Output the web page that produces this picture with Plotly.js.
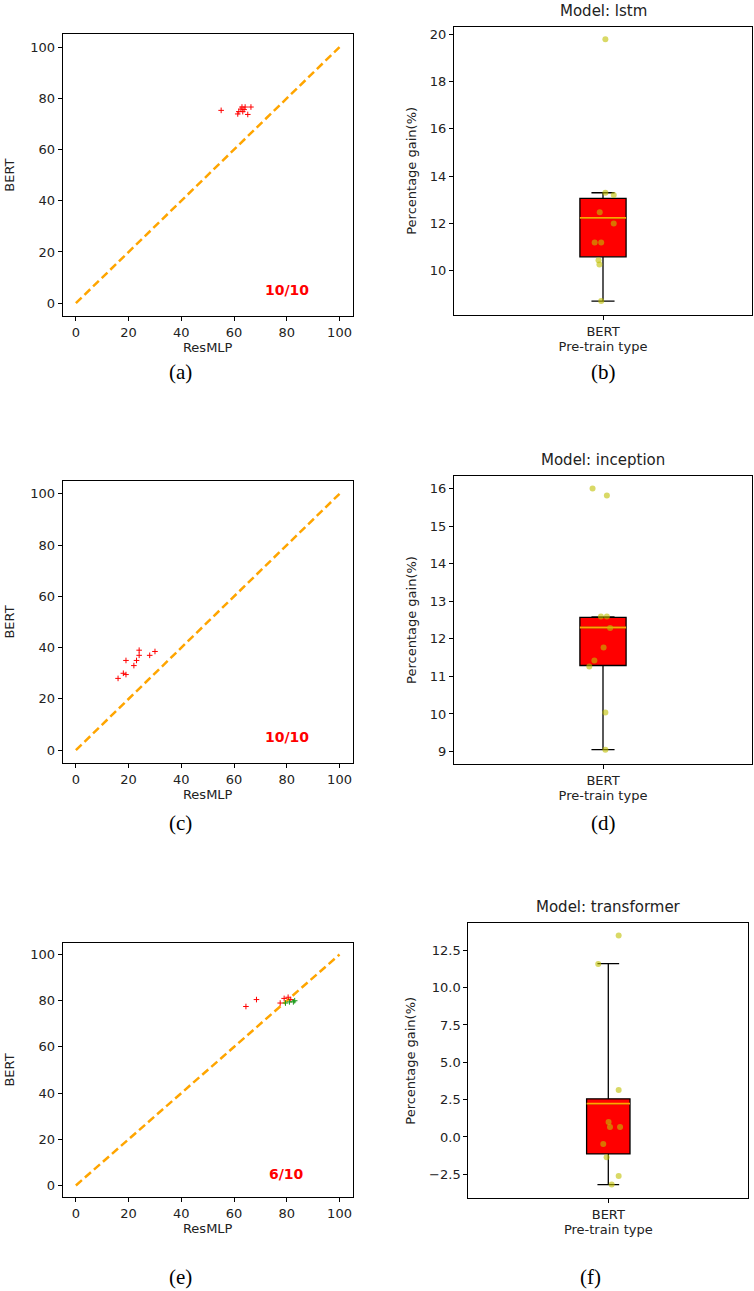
<!DOCTYPE html>
<html>
<head>
<meta charset="utf-8">
<script src="https://cdn.plot.ly/plotly-3.0.1.min.js"></script>
<style>
  html, body { margin: 0; padding: 0; background: #fff; }
  #chart { width: 754px; height: 1291px; }
</style>
</head>
<body>
<div id="chart"></div>
<script>
// ---- data ----
var diagLine = [0, 100];

// (a) lstm
var aResMLP = [55.1, 63.0, 64.2, 66.4, 62.6, 63.8, 61.8, 63.3, 61.4, 65.2];
var aBERT   = [75.3, 76.6, 76.6, 76.6, 75.8, 75.6, 74.8, 74.8, 73.9, 73.7];
// (c) inception
var cResMLP = [16, 18, 19, 19, 22, 23, 24, 24, 28, 30];
var cBERT   = [28, 30, 29.5, 35, 33, 35, 37, 39, 37, 38.5];
// (e) transformer: above diagonal (red) and below (green)
var eResMLPUp   = [64.5, 68.5, 77.5, 79, 80.5, 81.5];
var eBERTUp     = [77.5, 80.5, 79, 81, 81.5, 80.5];
var eResMLPDown = [79.5, 81, 82.5, 83];
var eBERTDown   = [79, 79.5, 79.5, 80];
var winLabels = ['10/10', '10/10', '6/10'];

// box stats and jittered points
var bStats = {q1: 10.59, med: 12.24, q3: 13.06, lo: 8.72, hi: 13.30};
var bGain  = [19.79, 13.30, 13.20, 12.47, 12.0, 11.20, 11.20, 10.45, 10.27, 8.72];
var bJit   = [0.008, 0.008, 0.036, -0.011, 0.036, -0.028, -0.006, -0.015, -0.012, -0.006];

var dStats = {q1: 11.29, med: 12.30, q3: 12.57, lo: 9.05, hi: 12.58};
var dGain  = [16.0, 15.81, 12.59, 12.59, 12.29, 11.77, 11.42, 11.26, 10.04, 9.05];
var dJit   = [-0.035, 0.013, -0.007, 0.013, 0.024, 0.002, -0.029, -0.046, 0.008, 0.008];

var fStats = {q1: -1.14, med: 2.23, q3: 2.55, lo: -3.19, hi: 11.61};
var fGain  = [13.50, 11.58, 3.15, 1.0, 0.67, 0.67, -0.47, -1.36, -2.61, -3.19];
var fJit   = [0.037, -0.036, 0.037, 0.001, 0.006, 0.042, -0.018, -0.006, 0.037, 0.012];

var modelNames = ['lstm', 'inception', 'transformer'];
var captions = ['(a)', '(b)', '(c)', '(d)', '(e)', '(f)'];

// ---- layout helpers (pixel boxes -> paper fractions) ----
var W = 754, H = 1291;
function dx(l, r) { return [l / W, r / W]; }
function dy(t, b) { return [1 - b / H, 1 - t / H]; }

var FONT = 'DejaVu Sans, sans-serif';
var boxW = 0.155;

function scatterAxis(dom, extra) {
  var ax = {
    domain: dom, range: [-5, 105], tickvals: [0, 20, 40, 60, 80, 100],
    ticks: 'outside', ticklen: 4, tickcolor: '#000',
    showline: true, mirror: true, linecolor: '#000', linewidth: 1,
    showgrid: false, zeroline: false,
    tickfont: {family: FONT, size: 13, color: '#222'}
  };
  for (var k in extra) ax[k] = extra[k];
  return ax;
}

function scatterTraces(xs, ys, color, xa, ya) {
  return {
    x: xs, y: ys, xaxis: xa, yaxis: ya, type: 'scatter', mode: 'markers',
    marker: {symbol: 'cross-thin', size: 4, line: {color: color, width: 1}},
    hoverinfo: 'skip'
  };
}

function diagTrace(xa, ya) {
  return {
    x: diagLine, y: diagLine, xaxis: xa, yaxis: ya, type: 'scatter', mode: 'lines',
    line: {color: '#ffa500', width: 2.5, dash: '8px,4px'}, hoverinfo: 'skip'
  };
}

function boxTraces(st, gain, jit, xa, ya) {
  var px = jit.map(function (j) { return 1 + j; });
  return [
    {
      type: 'box', x: [1], q1: [st.q1], median: [st.med], q3: [st.q3],
      lowerfence: [st.lo], upperfence: [st.hi], width: boxW, whiskerwidth: 0.5,
      boxpoints: false, fillcolor: '#ff0000', line: {color: '#000', width: 1.3},
      xaxis: xa, yaxis: ya, hoverinfo: 'skip'
    },
    {
      type: 'scatter', mode: 'lines', x: [1 - boxW / 2, 1 + boxW / 2], y: [st.med, st.med],
      line: {color: '#ffa500', width: 1.8}, xaxis: xa, yaxis: ya, hoverinfo: 'skip'
    },
    {
      type: 'scatter', mode: 'markers', x: px, y: gain,
      marker: {color: 'rgba(191,191,0,0.6)', size: 6}, xaxis: xa, yaxis: ya, hoverinfo: 'skip'
    }
  ];
}

function boxXAxis(dom) {
  return {
    domain: dom, range: [0.5, 1.5], tickvals: [1], ticktext: ['BERT'],
    ticks: 'outside', ticklen: 4, tickcolor: '#000',
    showline: true, mirror: true, linecolor: '#000', linewidth: 1,
    showgrid: false, zeroline: false,
    tickfont: {family: FONT, size: 13, color: '#222'},
    title: {text: 'Pre-train type', font: {family: FONT, size: 13, color: '#222'}, standoff: 3}
  };
}

function boxYAxis(dom, range, dtick, tick0, fmt) {
  return {
    domain: dom, range: range, dtick: dtick, tick0: tick0, tickformat: fmt,
    ticks: 'outside', ticklen: 4, tickcolor: '#000',
    showline: true, mirror: true, linecolor: '#000', linewidth: 1,
    showgrid: false, zeroline: false,
    tickfont: {family: FONT, size: 13, color: '#222'},
    title: {text: 'Percentage gain(%)', font: {family: FONT, size: 13, color: '#222'}, standoff: 10}
  };
}

var xTitle = {text: 'ResMLP', font: {family: FONT, size: 13, color: '#222'}, standoff: 3};
var yTitle = {text: 'BERT', font: {family: FONT, size: 13, color: '#222'}, standoff: 12};

var traces = [
  diagTrace('x', 'y'),
  scatterTraces(aResMLP, aBERT, '#ff0000', 'x', 'y'),
  diagTrace('x3', 'y3'),
  scatterTraces(cResMLP, cBERT, '#ff0000', 'x3', 'y3'),
  diagTrace('x5', 'y5'),
  scatterTraces(eResMLPUp, eBERTUp, '#ff0000', 'x5', 'y5'),
  scatterTraces(eResMLPDown, eBERTDown, '#1a9a1a', 'x5', 'y5')
].concat(
  boxTraces(bStats, bGain, bJit, 'x2', 'y2'),
  boxTraces(dStats, dGain, dJit, 'x4', 'y4'),
  boxTraces(fStats, fGain, fJit, 'x6', 'y6')
);

var annotations = [];
// win counts
[['x', 'y'], ['x3', 'y3'], ['x5', 'y5']].forEach(function (r, i) {
  annotations.push({
    xref: r[0], yref: r[1], x: 80, y: 5, text: '<b>' + winLabels[i] + '</b>', showarrow: false,
    font: {family: FONT, size: 14, color: '#ff0000'}
  });
});
// box titles
[['x2', 'y2'], ['x4', 'y4'], ['x6', 'y6']].forEach(function (r, i) {
  annotations.push({
    xref: r[0] + ' domain', yref: r[1] + ' domain', x: 0.5, y: 1, yanchor: 'bottom', yshift: 5,
    text: 'Model: ' + modelNames[i], showarrow: false,
    font: {family: FONT, size: 15, color: '#222'}
  });
});
// captions
var capPos = [[180, 372], [603, 372], [180, 823], [603, 823], [180, 1277], [590, 1277]];
captions.forEach(function (c, i) {
  annotations.push({
    xref: 'paper', yref: 'paper', x: capPos[i][0] / W, y: 1 - capPos[i][1] / H,
    xanchor: 'center', yanchor: 'middle', text: c, showarrow: false,
    font: {family: 'Liberation Serif, serif', size: 21, color: '#000'}
  });
});

var layout = {
  width: W, height: H, margin: {l: 0, r: 0, t: 0, b: 0},
  paper_bgcolor: '#fff', plot_bgcolor: '#fff', showlegend: false,
  xaxis:  scatterAxis(dx(62.7, 352.7), {anchor: 'y', title: xTitle}),
  yaxis:  scatterAxis(dy(34.3, 316), {anchor: 'x', title: yTitle}),
  xaxis3: scatterAxis(dx(62.7, 352.7), {anchor: 'y3', title: xTitle}),
  yaxis3: scatterAxis(dy(481, 763), {anchor: 'x3', title: yTitle}),
  xaxis5: scatterAxis(dx(62.7, 352.7), {anchor: 'y5', title: xTitle}),
  yaxis5: scatterAxis(dy(943, 1197), {anchor: 'x5', title: yTitle}),
  xaxis2: Object.assign(boxXAxis(dx(454, 752)), {anchor: 'y2'}),
  yaxis2: Object.assign(boxYAxis(dy(26.7, 315), [8.13, 20.32], 2, 10, 'd'), {anchor: 'x2'}),
  xaxis4: Object.assign(boxXAxis(dx(454, 752)), {anchor: 'y4'}),
  yaxis4: Object.assign(boxYAxis(dy(476, 764), [8.67, 16.33], 1, 9, 'd'), {anchor: 'x4'}),
  xaxis6: Object.assign(boxXAxis(dx(468.3, 748.3)), {anchor: 'y6'}),
  yaxis6: Object.assign(boxYAxis(dy(923.3, 1198.3), [-4.11, 14.31], 2.5, 0, '.1f'), {anchor: 'x6'}),
  annotations: annotations
};

Plotly.newPlot('chart', traces, layout, {staticPlot: true, displayModeBar: false});
</script>
</body>
</html>
